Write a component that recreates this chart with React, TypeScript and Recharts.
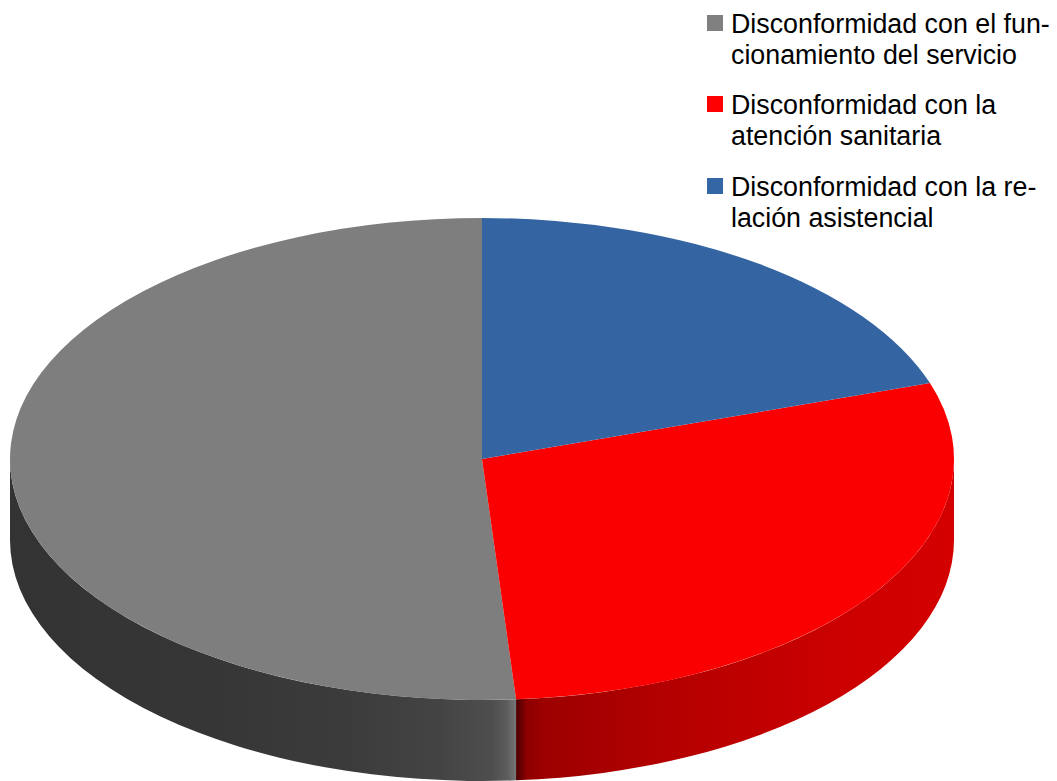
import React from "react";
import { Legend, Pie, PieChart } from "recharts";

// Complaint categories, drawn counter-clockwise from twelve o'clock.
const categories = [
  "Disconformidad con el funcionamiento del servicio",
  "Disconformidad con la atención sanitaria",
  "Disconformidad con la relación asistencial",
];
const shares = [51.15, 28.95, 19.9];
const colors = ["#7e7e7e", "#fa0000", "#3465a2"];
const swatchColors = ["#808080", "#ff0000", "#3465a4"];

// Legend text, broken and hyphenated by line.
const legendLines = [
  ["Disconformidad con el fun-", "cionamiento del servicio"],
  ["Disconformidad con la", "atención sanitaria"],
  ["Disconformidad con la re-", "lación asistencial"],
];

const rows = categories.map((name, i) => ({ name, value: shares[i], fill: colors[i] }));

const WIDTH = 1057;
const HEIGHT = 781;
const CX = 482;
const CY = 459;
const RX = 472;
const SQUASH = 241 / 472;
const DEPTH = 81;

const rad = (deg: number) => (deg * Math.PI) / 180;
const px = (cx: number, r: number, a: number) => cx + r * Math.cos(rad(a));
const py = (cy: number, r: number, a: number) => cy - r * SQUASH * Math.sin(rad(a));

// The top of a slice: a pie sector flattened into an ellipse.
function TopFace(props: any) {
  const { cx, cy, outerRadius: r, startAngle: a0, endAngle: a1, fill } = props;
  const large = Math.abs(a1 - a0) > 180 ? 1 : 0;
  const d =
    `M${cx},${cy}L${px(cx, r, a0)},${py(cy, r, a0)}` +
    `A${r},${r * SQUASH} 0 ${large} 0 ${px(cx, r, a1)},${py(cy, r, a1)}Z`;
  return <path d={d} fill={fill} />;
}

// The rim of a slice: only the part on the near half of the disc is visible.
function Wall(props: any) {
  const { cx, cy, outerRadius: r, startAngle, endAngle, index } = props;
  const a0 = Math.max(startAngle, 180);
  const a1 = Math.min(endAngle, 360);
  if (a1 <= a0) return <g />;
  const rx = r;
  const ry = r * SQUASH;
  const large = a1 - a0 > 180 ? 1 : 0;
  const d =
    `M${px(cx, r, a0)},${py(cy, r, a0)}` +
    `A${rx},${ry} 0 ${large} 0 ${px(cx, r, a1)},${py(cy, r, a1)}` +
    `L${px(cx, r, a1)},${py(cy, r, a1) + DEPTH}` +
    `A${rx},${ry} 0 ${large} 1 ${px(cx, r, a0)},${py(cy, r, a0) + DEPTH}Z`;
  return <path d={d} fill={`url(#rim-${index})`} />;
}

// Legend rows with a square swatch and two lines of text each.
function LegendRows({ payload }: any) {
  const seen = categories.map((name) => (payload || []).find((p: any) => p.value === name));
  return (
    <div style={{ fontFamily: "'Liberation Sans', sans-serif", fontSize: 26.8, lineHeight: "31px", color: "#000" }}>
      {seen.map((entry: any, i: number) =>
        entry ? (
          <div key={entry.value} style={{ position: "relative", paddingLeft: 24, marginBottom: i < 2 ? 19.5 : 0 }}>
            <span
              style={{
                position: "absolute",
                left: 0,
                top: 6,
                width: 16,
                height: 16,
                background: swatchColors[i],
              }}
            />
            {legendLines[i].map((line) => (
              <div key={line} style={{ whiteSpace: "pre" }}>
                {line}
              </div>
            ))}
          </div>
        ) : null,
      )}
    </div>
  );
}

export default function App() {
  return (
    <div style={{ position: "absolute", left: 0, top: 0, width: WIDTH, height: HEIGHT, overflow: "hidden" }}>
      <PieChart width={WIDTH} height={HEIGHT} margin={{ top: 0, right: 0, bottom: 0, left: 0 }}>
        <defs>
          <linearGradient id="rim-0" gradientUnits="userSpaceOnUse" x1={10} x2={517} y1={0} y2={0}>
            <stop offset="0" stopColor="#333333" />
            <stop offset="0.4" stopColor="#363636" />
            <stop offset="0.68" stopColor="#3c3c3c" />
            <stop offset="0.85" stopColor="#444444" />
            <stop offset="0.95" stopColor="#4e4e4e" />
            <stop offset="0.98" stopColor="#5c5c5c" />
            <stop offset="1" stopColor="#787878" />
          </linearGradient>
          <linearGradient id="rim-1" gradientUnits="userSpaceOnUse" x1={516} x2={954} y1={0} y2={0}>
            <stop offset="0" stopColor="#480000" />
            <stop offset="0.025" stopColor="#8e0000" />
            <stop offset="0.06" stopColor="#9c0000" />
            <stop offset="0.35" stopColor="#b40000" />
            <stop offset="0.75" stopColor="#cc0000" />
            <stop offset="1" stopColor="#d40000" />
          </linearGradient>
        </defs>
        <Pie
          data={rows}
          dataKey="value"
          nameKey="name"
          cx={CX}
          cy={CY}
          outerRadius={RX}
          startAngle={90}
          endAngle={450}
          stroke="none"
          legendType="none"
          shape={Wall}
          isAnimationActive={false}
        />
        <Pie
          data={rows}
          dataKey="value"
          nameKey="name"
          cx={CX}
          cy={CY}
          outerRadius={RX}
          startAngle={90}
          endAngle={450}
          stroke="none"
          shape={TopFace}
          isAnimationActive={false}
        />
        <Legend
          content={<LegendRows />}
          wrapperStyle={{ position: "absolute", left: 707, top: 8.5, width: 345, bottom: "auto" }}
        />
      </PieChart>
    </div>
  );
}
